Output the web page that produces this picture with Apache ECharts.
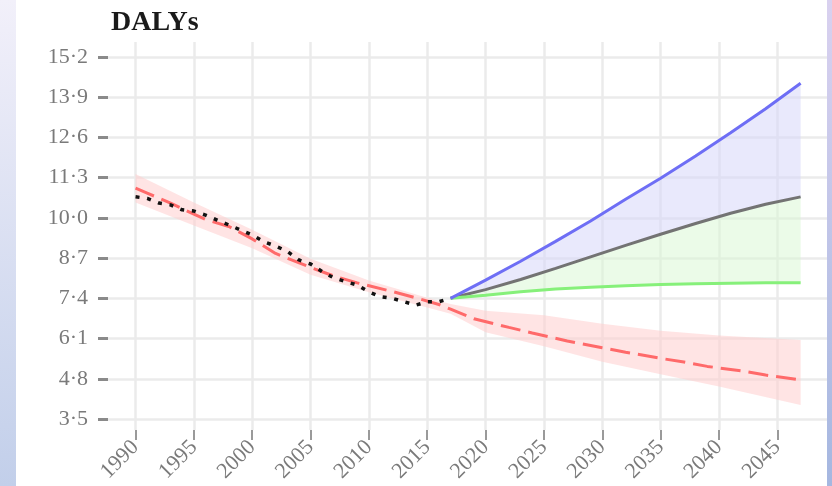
<!DOCTYPE html>
<html>
<head>
<meta charset="utf-8">
<script src="https://cdn.jsdelivr.net/npm/echarts@6/dist/echarts.min.js"></script>
<style>
  html, body { margin: 0; padding: 0; background: #ffffff; }
  #chart { width: 832px; height: 486px; }
</style>
</head>
<body>
<div id="chart"></div>
<script>
// Axis tick positions
const yearTicks = [1990, 1995, 2000, 2005, 2010, 2015, 2020, 2025, 2030, 2035, 2040, 2045];
const dalyTicks = [3.5, 4.8, 6.1, 7.4, 8.7, 10.0, 11.3, 12.6, 13.9, 15.2];

// Observed DALYs, 1990-2017
const observedYears = [1990, 1991, 1992, 1993, 1994, 1995, 1996, 1997, 1998, 1999,
                       2000, 2001, 2002, 2003, 2004, 2005, 2006, 2007, 2008, 2009,
                       2010, 2011, 2012, 2013, 2014, 2015, 2016, 2017];
const observedDalys = [10.68, 10.63, 10.48, 10.42, 10.26, 10.22, 10.09, 9.93, 9.77, 9.61,
                       9.45, 9.23, 9.09, 8.92, 8.64, 8.51, 8.26, 8.06, 7.94, 7.83,
                       7.61, 7.45, 7.40, 7.29, 7.18, 7.29, 7.29, 7.40];

// Modelled estimate and reference-trend forecast to 2047
const modelYears = [1990, 1991, 1993, 1995, 1996, 1998, 2000, 2002, 2005, 2007, 2009, 2012, 2014,
                    2016, 2017, 2019, 2022, 2024, 2027, 2030, 2032, 2035, 2037, 2039, 2042, 2044, 2047];
const modelDalys = [10.96, 10.80, 10.48, 10.12, 9.95, 9.72, 9.32, 8.85, 8.40, 8.12, 7.90, 7.62, 7.42,
                    7.20, 7.05, 6.74, 6.46, 6.28, 6.02, 5.80, 5.66, 5.46, 5.34, 5.20, 5.05, 4.92, 4.76];

// Uncertainty interval of the modelled series
const intervalYears = [1990, 1995, 2000, 2005, 2010, 2015, 2017, 2020, 2025, 2030, 2035, 2040, 2047];
const intervalUpper = [11.42, 10.50, 9.62, 8.68, 7.98, 7.42, 7.22, 7.00, 6.85, 6.58, 6.35, 6.20, 6.05];
const intervalLower = [10.50, 9.75, 9.02, 8.16, 7.60, 7.10, 6.90, 6.30, 5.85, 5.35, 4.95, 4.55, 3.95];

// Scenario projections from 2017
const scenarioYears = [2017, 2020, 2023, 2026, 2029, 2032, 2035, 2038, 2041, 2044, 2047];
const worseScenario = [7.40, 7.99, 8.60, 9.24, 9.90, 10.60, 11.28, 12.00, 12.75, 13.53, 14.35];
const middleScenario = [7.40, 7.68, 8.01, 8.37, 8.74, 9.11, 9.47, 9.82, 10.15, 10.44, 10.68];
const betterScenario = [7.40, 7.50, 7.61, 7.70, 7.76, 7.81, 7.85, 7.87, 7.89, 7.90, 7.90];

const SERIF = '"Liberation Serif", "DejaVu Serif", serif';

function pairs(xs, ys) {
  return xs.map((x, i) => [x, ys[i]]);
}

// Filled band between two curves, drawn as one polygon through the axis scales
function band(xsUp, up, xsLow, low, color, z) {
  return {
    type: 'custom',
    silent: true,
    clip: true,
    z: z,
    data: [[xsUp[0], up[0]]],
    renderItem: function (params, api) {
      const pts = [];
      for (let i = 0; i < xsUp.length; i++) pts.push(api.coord([xsUp[i], up[i]]));
      for (let i = xsLow.length - 1; i >= 0; i--) pts.push(api.coord([xsLow[i], low[i]]));
      return { type: 'polygon', shape: { points: pts }, style: { fill: color } };
    }
  };
}

function line(xs, ys, color, width, type, z) {
  return {
    type: 'line',
    data: pairs(xs, ys),
    showSymbol: false,
    symbol: 'none',
    silent: true,
    z: z,
    lineStyle: { color: color, width: width, type: type, cap: 'butt' }
  };
}

const chart = echarts.init(document.getElementById('chart'), null, { renderer: 'canvas' });

chart.setOption({
  animation: false,
  backgroundColor: '#ffffff',
  title: {
    text: 'DALYs',
    left: 106,
    top: 4,
    textStyle: { fontFamily: SERIF, fontWeight: 'bold', fontSize: 28, color: '#1a1a1a' }
  },
  grid: { left: 108, right: 5, top: 42, bottom: 56, containLabel: false },
  xAxis: {
    type: 'value',
    min: 1987.64,
    max: 2049.26,
    axisLine: { show: false },
    axisTick: { show: true, customValues: yearTicks, length: 10, lineStyle: { color: '#9a9a9a', width: 2 } },
    axisLabel: {
      customValues: yearTicks,
      rotate: 45,
      margin: 14,
      fontFamily: SERIF,
      fontSize: 22,
      color: '#7a7a7a',
      formatter: v => String(v)
    },
    splitLine: { show: true, lineStyle: { color: '#ebebeb', width: 2.5 } }
  },
  yAxis: {
    type: 'value',
    min: 3.144,
    max: 15.685,
    axisLine: { show: false },
    axisTick: { show: true, customValues: dalyTicks, length: 10, lineStyle: { color: '#8a8a8a', width: 3 } },
    axisLabel: {
      customValues: dalyTicks,
      margin: 20,
      fontFamily: SERIF,
      fontSize: 22,
      color: '#7a7a7a',
      formatter: v => v.toFixed(1).replace('.', '\u00b7')
    },
    splitLine: { show: true, lineStyle: { color: '#ebebeb', width: 2.5 } }
  },
  series: [
    band(intervalYears, intervalUpper, intervalYears, intervalLower, 'rgba(255, 205, 205, 0.55)', 1),
    band(scenarioYears, worseScenario, scenarioYears, middleScenario, 'rgba(215, 215, 250, 0.55)', 1),
    band(scenarioYears, middleScenario, scenarioYears, betterScenario, 'rgba(215, 248, 210, 0.5)', 1),
    line(modelYears, modelDalys, '#ff6a6a', 3, [20, 8], 3),
    line(observedYears, observedDalys, '#111111', 3.5, [4, 7.7], 4),
    line(scenarioYears, middleScenario, '#737373', 3, 'solid', 5),
    line(scenarioYears, betterScenario, '#86f07a', 3, 'solid', 5),
    line(scenarioYears, worseScenario, '#6e6ef5', 3, 'solid', 5)
  ],
  graphic: [
    {
      type: 'rect', left: 0, top: 0, z: 100, silent: true,
      shape: { width: 16, height: 486 },
      style: {
        fill: new echarts.graphic.LinearGradient(0, 0, 0, 1, [
          { offset: 0, color: '#f2f0fa' },
          { offset: 1, color: '#c2cfea' }
        ])
      }
    },
    {
      type: 'rect', right: 0, top: 0, z: 100, silent: true,
      shape: { width: 5, height: 486 },
      style: {
        fill: new echarts.graphic.LinearGradient(0, 0, 0, 1, [
          { offset: 0, color: '#d9d1ef' },
          { offset: 1, color: '#a5b7e0' }
        ])
      }
    }
  ]
});
</script>
</body>
</html>
